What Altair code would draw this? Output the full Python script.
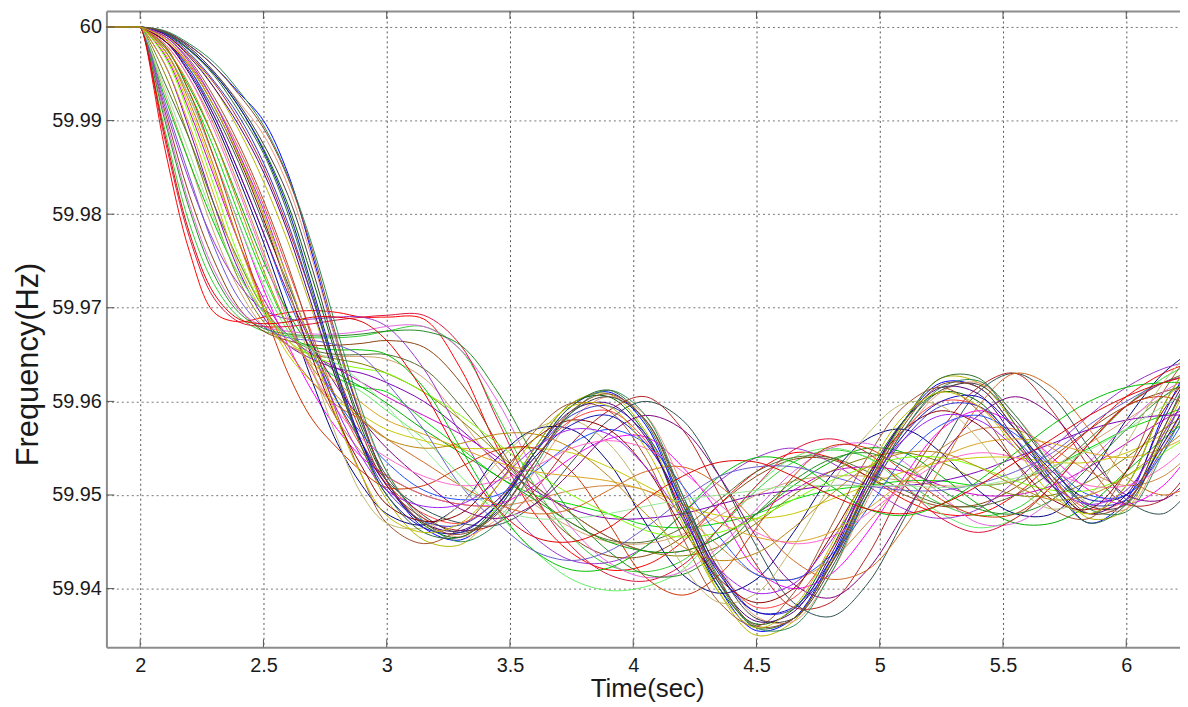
import altair as alt
import pandas as pd

# time samples (s); every trace sits at 60 Hz until the event at t = 2 s
LEAD_TIME = [1.95, 1.99]
LEAD_F = [60, 60]
TIME = [1.86, 2.0, 2.1, 2.2, 2.3, 2.4, 2.5, 2.6, 2.7, 2.8, 2.9,
        3.0, 3.15, 3.3, 3.45, 3.6, 3.75, 3.9, 4.05, 4.2, 4.35, 4.5, 4.65,
        4.8, 4.95, 5.1, 5.25, 5.4, 5.55, 5.7, 5.85, 6.0, 6.15, 6.3]

# frequency traces (Hz)
A1 = [60, 60, 59.9995, 59.998, 59.9958, 59.993, 59.990, 59.9843, 59.9755, 59.966, 59.958,
      59.9515, 59.9465, 59.9452, 59.9485, 59.9545, 59.9595, 59.961, 59.9575, 59.9485, 59.940, 59.9355, 59.9368, 59.943, 59.9515, 59.958, 59.962, 59.9615, 59.957, 59.9515, 59.947, 59.9495, 59.9585, 59.966]
A2 = [60, 60, 59.9993, 59.9975, 59.995, 59.9915, 59.987, 59.981, 59.973, 59.9645, 59.957,
      59.9515, 59.9468, 59.9455, 59.949, 59.955, 59.9598, 59.9605, 59.9565, 59.9475, 59.940, 59.9362, 59.9378, 59.944, 59.952, 59.958, 59.961, 59.960, 59.9555, 59.951, 59.948, 59.951, 59.9595, 59.966]
A3 = [60, 60, 59.999, 59.997, 59.9935, 59.989, 59.9835, 59.977, 59.9695, 59.962, 59.955,
      59.9495, 59.9452, 59.9447, 59.9488, 59.955, 59.9598, 59.9608, 59.9568, 59.9478, 59.9395, 59.935, 59.9365, 59.9428, 59.951, 59.9578, 59.9625, 59.962, 59.9575, 59.952, 59.9475, 59.9485, 59.9565, 59.9645]
A4 = [60, 60, 59.9994, 59.9978, 59.9952, 59.992, 59.9885, 59.983, 59.975, 59.966, 59.9585,
      59.9525, 59.9475, 59.9455, 59.9475, 59.9525, 59.958, 59.9605, 59.9585, 59.951, 59.9425, 59.937, 59.9365, 59.9415, 59.9495, 59.9565, 59.961, 59.962, 59.9585, 59.9535, 59.949, 59.9485, 59.955, 59.963]
A5 = [60, 60, 59.9988, 59.996, 59.992, 59.987, 59.981, 59.974, 59.967, 59.960, 59.955,
      59.9512, 59.948, 59.947, 59.9495, 59.954, 59.958, 59.959, 59.9558, 59.9485, 59.9418, 59.938, 59.939, 59.944, 59.951, 59.957, 59.960, 59.9595, 59.9555, 59.9515, 59.9485, 59.9495, 59.9555, 59.9625]
A6 = [60, 60, 59.9992, 59.997, 59.994, 59.990, 59.985, 59.9785, 59.971, 59.963, 59.9565,
      59.951, 59.9475, 59.9462, 59.947, 59.9505, 59.9555, 59.959, 59.9605, 59.957, 59.950, 59.9425, 59.938, 59.9385, 59.9435, 59.951, 59.957, 59.9615, 59.963, 59.959, 59.953, 59.949, 59.9495, 59.9545]
A7 = [60, 60, 59.999, 59.9965, 59.9925, 59.9875, 59.9815, 59.9745, 59.9665, 59.9585, 59.952,
      59.947, 59.9448, 59.9465, 59.951, 59.9568, 59.9598, 59.959, 59.954, 59.9455, 59.9385, 59.936, 59.9395, 59.9465, 59.954, 59.9595, 59.9615, 59.959, 59.9535, 59.9485, 59.9475, 59.9525, 59.961, 59.9665]
A8 = [60, 60, 59.9993, 59.9972, 59.9942, 59.9905, 59.9855, 59.979, 59.971, 59.9625, 59.9555,
      59.9505, 59.9472, 59.9468, 59.9495, 59.9545, 59.9585, 59.9595, 59.9565, 59.9495, 59.942, 59.9375, 59.9378, 59.9425, 59.950, 59.956, 59.9595, 59.9595, 59.956, 59.952, 59.949, 59.9495, 59.955, 59.9615]
A9 = [60, 60, 59.9985, 59.9955, 59.9905, 59.9845, 59.978, 59.971, 59.965, 59.960, 59.9565,
      59.9535, 59.9505, 59.9495, 59.950, 59.9525, 59.9555, 59.957, 59.9555, 59.951, 59.9455, 59.9415, 59.941, 59.9435, 59.9485, 59.954, 59.9575, 59.9585, 59.9565, 59.953, 59.950, 59.950, 59.9545, 59.961]
A10 = [60, 60, 59.9985, 59.9952, 59.9905, 59.9845, 59.978, 59.9715, 59.966, 59.9615, 59.958,
       59.955, 59.9515, 59.9485, 59.9475, 59.949, 59.9525, 59.9565, 59.9585, 59.957, 59.952, 59.9455, 59.9405, 59.939, 59.942, 59.948, 59.954, 59.9585, 59.9605, 59.9585, 59.954, 59.950, 59.9495, 59.953]
A11 = [60, 60, 59.9992, 59.9968, 59.9935, 59.9895, 59.9845, 59.978, 59.970, 59.962, 59.9555,
       59.951, 59.947, 59.9462, 59.949, 59.9545, 59.959, 59.9598, 59.9562, 59.948, 59.9405, 59.9365, 59.9375, 59.9435, 59.9515, 59.958, 59.9615, 59.9608, 59.956, 59.951, 59.948, 59.950, 59.958, 59.965]
A12 = [60, 60, 59.9995, 59.9978, 59.9952, 59.9918, 59.9875, 59.982, 59.974, 59.965, 59.9575,
       59.952, 59.9478, 59.946, 59.9482, 59.9535, 59.9588, 59.9605, 59.958, 59.950, 59.9418, 59.9368, 59.9368, 59.942, 59.950, 59.957, 59.9612, 59.9618, 59.958, 59.953, 59.9488, 59.949, 59.956, 59.9638]
A13 = [60, 60, 59.9985, 59.9958, 59.9915, 59.986, 59.9795, 59.972, 59.9645, 59.958, 59.953,
       59.949, 59.9472, 59.948, 59.952, 59.956, 59.958, 59.957, 59.953, 59.9465, 59.941, 59.9385, 59.940, 59.9455, 59.952, 59.957, 59.959, 59.9575, 59.9535, 59.9495, 59.9485, 59.9525, 59.959, 59.9645]
A14 = [60, 60, 59.9996, 59.9982, 59.9962, 59.9932, 59.9895, 59.984, 59.9765, 59.9675, 59.959,
       59.9525, 59.9472, 59.945, 59.947, 59.953, 59.9588, 59.9612, 59.9585, 59.950, 59.941, 59.9358, 59.936, 59.9415, 59.950, 59.957, 59.9615, 59.9622, 59.9585, 59.953, 59.9485, 59.9482, 59.9545, 59.9625]
A15 = [60, 60, 59.9987, 59.9958, 59.9915, 59.9862, 59.980, 59.973, 59.9655, 59.958, 59.952,
       59.9478, 59.946, 59.947, 59.951, 59.956, 59.9595, 59.9595, 59.955, 59.947, 59.9395, 59.9358, 59.938, 59.9445, 59.9525, 59.9585, 59.961, 59.9595, 59.955, 59.950, 59.948, 59.951, 59.9595, 59.966]
B1 = [60, 60, 59.9975, 59.9925, 59.986, 59.979, 59.972, 59.966, 59.961, 59.957, 59.954,
      59.952, 59.950, 59.949, 59.949, 59.951, 59.954, 59.956, 59.9562, 59.953, 59.948, 59.942, 59.940, 59.9415, 59.946, 59.952, 59.957, 59.959, 59.9575, 59.954, 59.9505, 59.949, 59.951, 59.956]
B2 = [60, 60, 59.999, 59.9962, 59.992, 59.9865, 59.980, 59.972, 59.9635, 59.956, 59.950,
      59.947, 59.9465, 59.949, 59.9535, 59.957, 59.958, 59.9555, 59.950, 59.9425, 59.9385, 59.9395, 59.9445, 59.951, 59.9565, 59.9598, 59.9595, 59.956, 59.951, 59.9485, 59.950, 59.9555, 59.962, 59.9665]
D1 = [60, 60, 59.9985, 59.9955, 59.991, 59.9855, 59.979, 59.9725, 59.966, 59.960, 59.9555,
      59.9515, 59.9485, 59.947, 59.9468, 59.949, 59.9535, 59.958, 59.960, 59.958, 59.952, 59.9445, 59.9385, 59.937, 59.9405, 59.9475, 59.955, 59.961, 59.963, 59.9605, 59.955, 59.9495, 59.948, 59.952]
D2 = [60, 60, 59.9994, 59.9975, 59.9948, 59.991, 59.9865, 59.980, 59.9715, 59.9625, 59.955,
      59.950, 59.946, 59.9455, 59.9485, 59.9545, 59.9595, 59.9612, 59.9578, 59.949, 59.9405, 59.9358, 59.9368, 59.9425, 59.951, 59.958, 59.9625, 59.9625, 59.9575, 59.951, 59.947, 59.949, 59.957, 59.9655]
G1 = [60, 60, 59.9985, 59.995, 59.990, 59.9838, 59.977, 59.9695, 59.962, 59.9555, 59.951,
      59.948, 59.9468, 59.949, 59.954, 59.957, 59.957, 59.9535, 59.947, 59.9415, 59.9395, 59.941, 59.946, 59.952, 59.956, 59.957, 59.9545, 59.9505, 59.948, 59.948, 59.952, 59.958, 59.963, 59.966]
G2 = [60, 60, 59.998, 59.993, 59.986, 59.978, 59.970, 59.963, 59.958, 59.955, 59.9525,
      59.9508, 59.951, 59.953, 59.9548, 59.955, 59.9525, 59.947, 59.9412, 59.9393, 59.9415, 59.9465, 59.952, 59.9552, 59.955, 59.9525, 59.9495, 59.9478, 59.948, 59.951, 59.9555, 59.9595, 59.9605, 59.959]
K1 = [60, 60, 59.9982, 59.9945, 59.9895, 59.983, 59.976, 59.969, 59.963, 59.958, 59.9545,
      59.952, 59.950, 59.949, 59.9488, 59.9495, 59.9505, 59.951, 59.9505, 59.948, 59.9445, 59.9415, 59.941, 59.943, 59.947, 59.9515, 59.955, 59.957, 59.957, 59.955, 59.9525, 59.951, 59.952, 59.9555]
K2 = [60, 60, 59.9975, 59.992, 59.985, 59.977, 59.9705, 59.9655, 59.962, 59.9595, 59.958,
      59.956, 59.9535, 59.951, 59.949, 59.948, 59.9485, 59.9505, 59.9525, 59.953, 59.951, 59.947, 59.943, 59.941, 59.942, 59.9465, 59.953, 59.9595, 59.963, 59.9615, 59.957, 59.952, 59.950, 59.9515]
N1 = [60, 60, 59.9994, 59.9976, 59.995, 59.9915, 59.9868, 59.9805, 59.972, 59.963, 59.9555,
      59.950, 59.9465, 59.946, 59.949, 59.954, 59.9575, 59.9585, 59.9555, 59.949, 59.9415, 59.9375, 59.938, 59.943, 59.9505, 59.9565, 59.960, 59.9605, 59.957, 59.9525, 59.9495, 59.950, 59.9555, 59.9625]
N2 = [60, 60, 59.9935, 59.9865, 59.9795, 59.9735, 59.9695, 59.967, 59.9655, 59.964, 59.962,
      59.9595, 59.955, 59.951, 59.9485, 59.9475, 59.9475, 59.948, 59.9488, 59.9495, 59.950, 59.9505, 59.951, 59.951, 59.951, 59.951, 59.9508, 59.951, 59.9518, 59.953, 59.9548, 59.957, 59.9595, 59.962]
N3 = [60, 60, 59.9978, 59.9938, 59.988, 59.981, 59.974, 59.968, 59.9635, 59.9605, 59.958,
      59.956, 59.955, 59.9555, 59.9565, 59.9565, 59.955, 59.952, 59.948, 59.9445, 59.943, 59.9438, 59.9465, 59.950, 59.953, 59.9545, 59.9545, 59.953, 59.951, 59.9495, 59.950, 59.952, 59.955, 59.958]
N4 = [60, 60, 59.9995, 59.998, 59.9958, 59.9928, 59.9892, 59.9838, 59.976, 59.9665, 59.958,
      59.9515, 59.947, 59.9458, 59.948, 59.9535, 59.959, 59.9608, 59.958, 59.9495, 59.9408, 59.936, 59.9368, 59.9425, 59.9505, 59.9575, 59.9618, 59.9615, 59.957, 59.952, 59.948, 59.9492, 59.957, 59.9648]
N5 = [60, 60, 59.9885, 59.978, 59.9715, 59.9688, 59.9683, 59.9685, 59.969, 59.969, 59.9685,
      59.9665, 59.961, 59.954, 59.9485, 59.9455, 59.945, 59.9465, 59.9495, 59.952, 59.9535, 59.9535, 59.952, 59.950, 59.9485, 59.948, 59.949, 59.951, 59.9535, 59.956, 59.9585, 59.9605, 59.962, 59.963]
N6 = [60, 60, 59.999, 59.9963, 59.992, 59.9865, 59.9805, 59.973, 59.9655, 59.959, 59.954,
      59.9505, 59.9488, 59.949, 59.9515, 59.955, 59.957, 59.9565, 59.953, 59.9475, 59.942, 59.9395, 59.9405, 59.945, 59.951, 59.956, 59.9585, 59.958, 59.955, 59.951, 59.949, 59.9505, 59.9565, 59.963]
Q1 = [60, 60, 59.987, 59.976, 59.9695, 59.9685, 59.969, 59.9695, 59.9697, 59.9695, 59.969,
      59.969, 59.9688, 59.9635, 59.955, 59.948, 59.9438, 59.942, 59.9425, 59.945, 59.949, 59.9525, 59.9545, 59.954, 59.952, 59.9495, 59.948, 59.948, 59.950, 59.9535, 59.957, 59.9605, 59.963, 59.9645]
Q2 = [60, 60, 59.989, 59.979, 59.9725, 59.969, 59.9675, 59.967, 59.9668, 59.9668, 59.967,
      59.9675, 59.968, 59.9655, 59.9585, 59.951, 59.9455, 59.9425, 59.9418, 59.943, 59.9465, 59.9505, 59.9535, 59.9548, 59.954, 59.9515, 59.949, 59.9478, 59.9485, 59.9515, 59.9555, 59.9595, 59.9625, 59.9645]
Q3 = [60, 60, 59.991, 59.982, 59.975, 59.970, 59.9675, 59.9665, 59.966, 59.966, 59.9662,
      59.9665, 59.9658, 59.962, 59.9555, 59.9495, 59.9455, 59.9435, 59.9435, 59.9455, 59.949, 59.952, 59.9538, 59.9538, 59.952, 59.950, 59.9488, 59.949, 59.9508, 59.954, 59.957, 59.9595, 59.961, 59.962]
Q4 = [60, 60, 59.993, 59.9855, 59.978, 59.972, 59.968, 59.966, 59.965, 59.9648, 59.9648,
      59.9645, 59.9625, 59.958, 59.953, 59.949, 59.9465, 59.945, 59.9448, 59.9458, 59.9478, 59.950, 59.9515, 59.952, 59.952, 59.9515, 59.951, 59.951, 59.9515, 59.953, 59.9555, 59.958, 59.9605, 59.9625]
Q5 = [60, 60, 59.9915, 59.9835, 59.977, 59.9725, 59.9698, 59.9688, 59.9688, 59.969, 59.969,
      59.968, 59.9635, 59.9565, 59.950, 59.9455, 59.943, 59.9428, 59.9445, 59.948, 59.9515, 59.954, 59.955, 59.9535, 59.951, 59.9485, 59.9475, 59.9485, 59.9515, 59.955, 59.9585, 59.9615, 59.9635, 59.9645]
Q6 = [60, 60, 59.994, 59.988, 59.981, 59.975, 59.970, 59.967, 59.9655, 59.965, 59.965,
      59.965, 59.9635, 59.9595, 59.9545, 59.950, 59.947, 59.9452, 59.945, 59.9465, 59.9495, 59.9525, 59.954, 59.954, 59.9525, 59.9505, 59.949, 59.9488, 59.950, 59.9525, 59.956, 59.9595, 59.962, 59.9635]
Q7 = [60, 60, 59.990, 59.9805, 59.9735, 59.9695, 59.9678, 59.9672, 59.967, 59.967, 59.9672,
      59.9675, 59.9675, 59.966, 59.961, 59.954, 59.948, 59.944, 59.9415, 59.9415, 59.944, 59.948, 59.9515, 59.9538, 59.9545, 59.953, 59.9505, 59.9485, 59.948, 59.9495, 59.953, 59.957, 59.9605, 59.963]
Q8 = [60, 60, 59.992, 59.984, 59.9765, 59.971, 59.968, 59.9668, 59.9665, 59.966, 59.9648,
      59.962, 59.957, 59.951, 59.947, 59.944, 59.943, 59.944, 59.9465, 59.9495, 59.952, 59.953, 59.953, 59.952, 59.951, 59.9505, 59.9505, 59.9512, 59.9525, 59.9545, 59.9575, 59.960, 59.962, 59.963]
E1 = [60, 60, 59.995, 59.988, 59.980, 59.973, 59.9685, 59.966, 59.965, 59.9645, 59.964,
      59.963, 59.961, 59.958, 59.9545, 59.951, 59.948, 59.9455, 59.944, 59.9435, 59.9445, 59.947, 59.950, 59.9525, 59.954, 59.9545, 59.9535, 59.9515, 59.950, 59.950, 59.9515, 59.954, 59.957, 59.9595]
E2 = [60, 60, 59.988, 59.9775, 59.971, 59.9685, 59.968, 59.968, 59.9683, 59.9687, 59.969,
      59.9692, 59.9692, 59.966, 59.958, 59.950, 59.9445, 59.9415, 59.9408, 59.9425, 59.9465, 59.951, 59.9548, 59.956, 59.9545, 59.951, 59.9475, 59.946, 59.9475, 59.951, 59.9555, 59.9595, 59.962, 59.963]
H1 = [60, 60, 59.9905, 59.981, 59.974, 59.9698, 59.968, 59.9675, 59.9672, 59.9672, 59.9675,
      59.968, 59.968, 59.9655, 59.960, 59.9525, 59.9465, 59.9428, 59.9412, 59.9418, 59.9445, 59.9485, 59.9525, 59.955, 59.9555, 59.9535, 59.950, 59.947, 59.947, 59.9495, 59.9535, 59.9575, 59.961, 59.963]
H2 = [60, 60, 59.9925, 59.9855, 59.979, 59.9735, 59.9695, 59.967, 59.9658, 59.9655, 59.9655,
      59.965, 59.9615, 59.955, 59.9485, 59.944, 59.942, 59.9422, 59.9445, 59.948, 59.952, 59.954, 59.9535, 59.951, 59.9485, 59.9478, 59.949, 59.9515, 59.9545, 59.9575, 59.960, 59.9615, 59.962, 59.962]
M1 = [60, 60, 59.998, 59.993, 59.987, 59.980, 59.9735, 59.968, 59.9645, 59.9625, 59.9615,
      59.961, 59.958, 59.955, 59.952, 59.950, 59.949, 59.948, 59.9468, 59.9465, 59.947, 59.948, 59.9495, 59.9505, 59.951, 59.9515, 59.9515, 59.951, 59.9515, 59.953, 59.955, 59.957, 59.9585, 59.960]
M2 = [60, 60, 59.997, 59.991, 59.984, 59.977, 59.971, 59.967, 59.965, 59.9635, 59.962,
      59.9605, 59.9585, 59.9565, 59.954, 59.951, 59.948, 59.9455, 59.944, 59.944, 59.9455, 59.948, 59.9505, 59.9525, 59.953, 59.9525, 59.951, 59.950, 59.950, 59.951, 59.953, 59.9555, 59.958, 59.960]
M3 = [60, 60, 59.996, 59.989, 59.981, 59.974, 59.969, 59.966, 59.9645, 59.9635, 59.963,
      59.962, 59.960, 59.957, 59.9535, 59.9505, 59.9485, 59.9475, 59.9475, 59.948, 59.949, 59.950, 59.9505, 59.951, 59.951, 59.951, 59.9515, 59.9525, 59.954, 59.9555, 59.957, 59.958, 59.9585, 59.9585]
M4 = [60, 60, 59.9975, 59.9925, 59.986, 59.979, 59.9725, 59.9675, 59.9645, 59.9625, 59.961,
      59.959, 59.956, 59.952, 59.948, 59.944, 59.941, 59.9398, 59.9402, 59.942, 59.9465, 59.951, 59.954, 59.955, 59.954, 59.951, 59.948, 59.9465, 59.9475, 59.951, 59.9555, 59.9595, 59.9625, 59.9645]
M5 = [60, 60, 59.9978, 59.9935, 59.988, 59.9815, 59.975, 59.9695, 59.9655, 59.963, 59.9615,
      59.9598, 59.957, 59.9545, 59.952, 59.9495, 59.947, 59.945, 59.944, 59.944, 59.9455, 59.948, 59.951, 59.9535, 59.955, 59.9545, 59.952, 59.949, 59.947, 59.947, 59.949, 59.9525, 59.956, 59.959]
M6 = [60, 60, 59.9968, 59.9905, 59.983, 59.9755, 59.970, 59.9665, 59.9648, 59.964, 59.9635,
      59.963, 59.961, 59.9585, 59.9555, 59.9525, 59.950, 59.948, 59.9462, 59.9455, 59.946, 59.9475, 59.9495, 59.9515, 59.953, 59.954, 59.954, 59.953, 59.9515, 59.9505, 59.9505, 59.952, 59.9545, 59.957]
M7 = [60, 60, 59.9982, 59.9945, 59.989, 59.9825, 59.9755, 59.9685, 59.963, 59.959, 59.956,
      59.954, 59.952, 59.951, 59.9515, 59.953, 59.955, 59.9558, 59.955, 59.9525, 59.949, 59.946, 59.9448, 59.9455, 59.948, 59.951, 59.9535, 59.9545, 59.954, 59.9525, 59.951, 59.951, 59.953, 59.9565]
F1 = [60, 60, 59.9972, 59.9915, 59.9845, 59.977, 59.970, 59.965, 59.962, 59.960, 59.9585,
      59.957, 59.9558, 59.955, 59.955, 59.955, 59.9545, 59.953, 59.951, 59.949, 59.9478, 59.9475, 59.948, 59.9495, 59.951, 59.9525, 59.9535, 59.954, 59.954, 59.9535, 59.9535, 59.9545, 59.9565, 59.959]
F2 = [60, 60, 59.996, 59.9895, 59.982, 59.9745, 59.9695, 59.9665, 59.964, 59.962, 59.9598,
      59.958, 59.9565, 59.955, 59.9535, 59.9525, 59.952, 59.9515, 59.9505, 59.949, 59.947, 59.9455, 59.945, 59.946, 59.9485, 59.9515, 59.954, 59.9555, 59.956, 59.9555, 59.9545, 59.954, 59.955, 59.957]

SERIES = [("Q1", Q1), ("M1", M1), ("A1", A1), ("Q2", Q2), ("B1", B1), ("A2", A2),
          ("M2", M2), ("Q3", Q3), ("A3", A3), ("G1", G1), ("M3", M3), ("A4", A4),
          ("E1", E1), ("Q4", Q4), ("A5", A5), ("D1", D1), ("M4", M4), ("A6", A6),
          ("F1", F1), ("Q5", Q5), ("A7", A7), ("K1", K1), ("M5", M5), ("A8", A8),
          ("H1", H1), ("Q6", Q6), ("A9", A9), ("G2", G2), ("M6", M6), ("A10", A10),
          ("E2", E2), ("Q7", Q7), ("A11", A11), ("F2", F2), ("M7", M7), ("A12", A12),
          ("H2", H2), ("Q8", Q8), ("A13", A13), ("B2", B2), ("K2", K2), ("A14", A14),
          ("N1", N1), ("N2", N2), ("N3", N3), ("N5", N5), ("N6", N6), ("D2", D2),
          ("N4", N4), ("A15", A15)]

COLORS = ["#ff0000", "#00dd00", "#0000ff", "#33cc33", "#ff00ff", "#006400",
          "#cc00cc", "#8b4513", "#b5b500", "#000080", "#7b00b4", "#e9967a",
          "#808000", "#d2a06e", "#ff4040", "#2f4f4f", "#66ee66", "#b22222",
          "#c8c800", "#9932cc", "#a0522d", "#cd853f", "#00aa00", "#3333cc",
          "#e066e0", "#556b2f", "#1e50ff", "#cc3300", "#7fff00", "#800080",
          "#dc143c", "#228b22", "#4b0082", "#daa520", "#ff66cc", "#404040",
          "#00c000", "#6a5acd", "#8b0000", "#bdb76b", "#d2691e", "#2e8b57",
          "#1010c0", "#99e699", "#b8860b", "#e00000", "#a020f0", "#2f6f2f",
          "#8b4726", "#bcbc00"]

X_TICKS = [2, 2.5, 3, 3.5, 4, 4.5, 5, 5.5, 6]
Y_TICKS = [59.94, 59.95, 59.96, 59.97, 59.98, 59.99, 60.0]

rows = []
for name, vals in SERIES:
    for t, f in zip(TIME, vals, strict=True):
        rows.append({"run": name, "t": t, "f": f})
    for t, f in zip(LEAD_TIME, LEAD_F, strict=True):
        rows.append({"run": name, "t": t, "f": f})
df = pd.DataFrame(rows)

FONT = "Liberation Sans"
xscale = alt.Scale(domain=[1.863, 6.218], nice=False, zero=False)
yscale = alt.Scale(domain=[59.93373, 60.0017], nice=False, zero=False)

lines = alt.Chart(df).mark_line(clip=True, strokeWidth=1, interpolate="catmull-rom").encode(
    x=alt.X("t:Q", scale=xscale,
            axis=alt.Axis(values=X_TICKS, format=".1~f", title="Time(sec)",
                          labelFont=FONT, labelFontSize=20, labelColor="#1a1a1a",
                          labelPadding=8, labelFlush=False, ticks=False,
                          domainColor="#8c8c8c", domainWidth=2,
                          grid=True, gridColor="#555555", gridDash=[2, 3], gridWidth=1,
                          titleFont=FONT, titleFontSize=26, titleFontWeight="normal",
                          titleColor="#1a1a1a", titleX=544, titleY=42,
                          titleAlign="center", titleBaseline="middle")),
    y=alt.Y("f:Q", scale=yscale,
            axis=alt.Axis(values=Y_TICKS, format=".2~f", title="Frequency(Hz)",
                          labelFont=FONT, labelFontSize=20, labelColor="#1a1a1a",
                          labelPadding=5, labelFlush=False, ticks=False,
                          domainColor="#8c8c8c", domainWidth=2,
                          grid=True, gridColor="#777777", gridDash=[2, 3], gridWidth=1,
                          titleFont=FONT, titleFontSize=31, titleFontWeight="normal",
                          titleColor="#1a1a1a", titleAngle=270, titleX=-78, titleY=355,
                          titleAlign="center", titleBaseline="middle")),
    color=alt.Color("run:N", scale=alt.Scale(domain=[n for n, _ in SERIES], range=COLORS),
                    legend=None, sort=[n for n, _ in SERIES]),
    order=alt.Order("t:Q"),
)

xt = pd.DataFrame({"t": X_TICKS})
yt = pd.DataFrame({"f": Y_TICKS})

top_ticks = alt.Chart(xt).mark_rule(color="#555555", strokeWidth=1).encode(
    x=alt.X("t:Q", scale=xscale,
            axis=alt.Axis(orient="top", labels=False, ticks=False, grid=False,
                          domain=True, domainColor="#8c8c8c", domainWidth=2, title=None)),
    y=alt.value(0), y2=alt.value(8),
)
bottom_ticks = alt.Chart(xt).mark_rule(color="#555555", strokeWidth=1).encode(
    x=alt.X("t:Q", scale=xscale, axis=None),
    y=alt.value(640), y2=alt.value(632),
)
left_ticks = alt.Chart(yt).mark_rule(color="#555555", strokeWidth=1).encode(
    y=alt.Y("f:Q", scale=yscale, axis=None),
    x=alt.value(0), x2=alt.value(8),
)

chart = alt.layer(lines, top_ticks, bottom_ticks, left_ticks).resolve_axis(
    x="independent", y="independent"
).properties(
    width=1080, height=640,
    autosize=alt.AutoSizeParams(type="none"),
    padding={"left": 99, "top": 1, "right": 0, "bottom": 57},
    background="white",
).configure_view(stroke=None)

chart.save("out.html", embed_options={"renderer": "svg", "actions": False})
